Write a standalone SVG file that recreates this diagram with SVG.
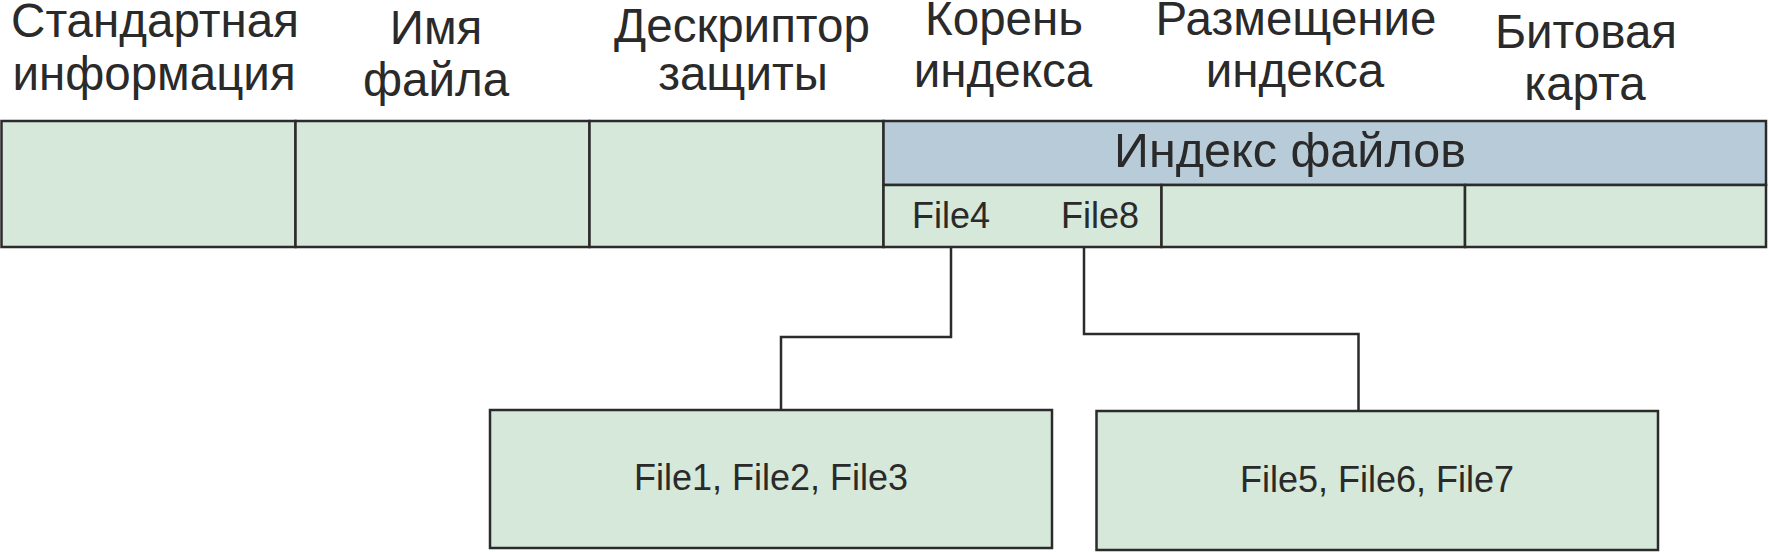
<svg xmlns="http://www.w3.org/2000/svg" width="1769" height="552" viewBox="0 0 1769 552">
<style>
.g{fill:#d5e8d9;stroke:#2b2b2b;stroke-width:2.5}
.b{fill:#b8cbd9;stroke:#2b2b2b;stroke-width:2.5}
.t{font-family:"Liberation Sans",Arial,sans-serif;fill:#2a2a2a;text-anchor:middle}
.h{font-size:47.5px}
.f{font-size:36px}
.c{fill:none;stroke:#2b2b2b;stroke-width:2.5}
</style>
<rect width="1769" height="552" fill="#ffffff"/>
<g id="labels">
<text class="t h" x="155" y="37">Стандартная</text>
<text class="t h" x="154" y="90">информация</text>
<text class="t h" x="436" y="44">Имя</text>
<text class="t h" x="436" y="96">файла</text>
<text class="t h" x="742" y="42">Дескриптор</text>
<text class="t h" x="743" y="90">защиты</text>
<text class="t h" x="1004" y="35">Корень</text>
<text class="t h" x="1003" y="87">индекса</text>
<text class="t h" x="1296" y="35">Размещение</text>
<text class="t h" x="1295" y="87">индекса</text>
<text class="t h" x="1586" y="48">Битовая</text>
<text class="t h" x="1585" y="100">карта</text>
</g>
<g id="std-info"><rect class="g" x="1.5" y="121" width="294" height="126"/></g>
<g id="file-name"><rect class="g" x="295.5" y="121" width="294" height="126"/></g>
<g id="security"><rect class="g" x="589.5" y="121" width="294" height="126"/></g>
<g id="file-index">
<rect class="b" x="883.5" y="121" width="882.5" height="64"/>
<text class="t" style="font-size:48.5px" x="1290" y="167">Индекс файлов</text>
</g>
<g id="index-root">
<rect class="g" x="883.5" y="185" width="278" height="62"/>
<text class="t f" x="951" y="228">File4</text>
<text class="t f" x="1100" y="228">File8</text>
</g>
<g id="index-alloc"><rect class="g" x="1161.5" y="185" width="303.5" height="62"/></g>
<g id="bitmap"><rect class="g" x="1465" y="185" width="301" height="62"/></g>
<g id="connectors">
<polyline class="c" points="951,247 951,337 781,337 781,410"/>
<polyline class="c" points="1084,247 1084,334 1358.5,334 1358.5,411"/>
</g>
<g id="leaf1">
<rect class="g" x="490" y="410" width="562" height="138"/>
<text class="t f" x="771" y="490">File1, File2, File3</text>
</g>
<g id="leaf2">
<rect class="g" x="1096.5" y="411" width="561.5" height="139"/>
<text class="t f" x="1377" y="492">File5, File6, File7</text>
</g>
</svg>
